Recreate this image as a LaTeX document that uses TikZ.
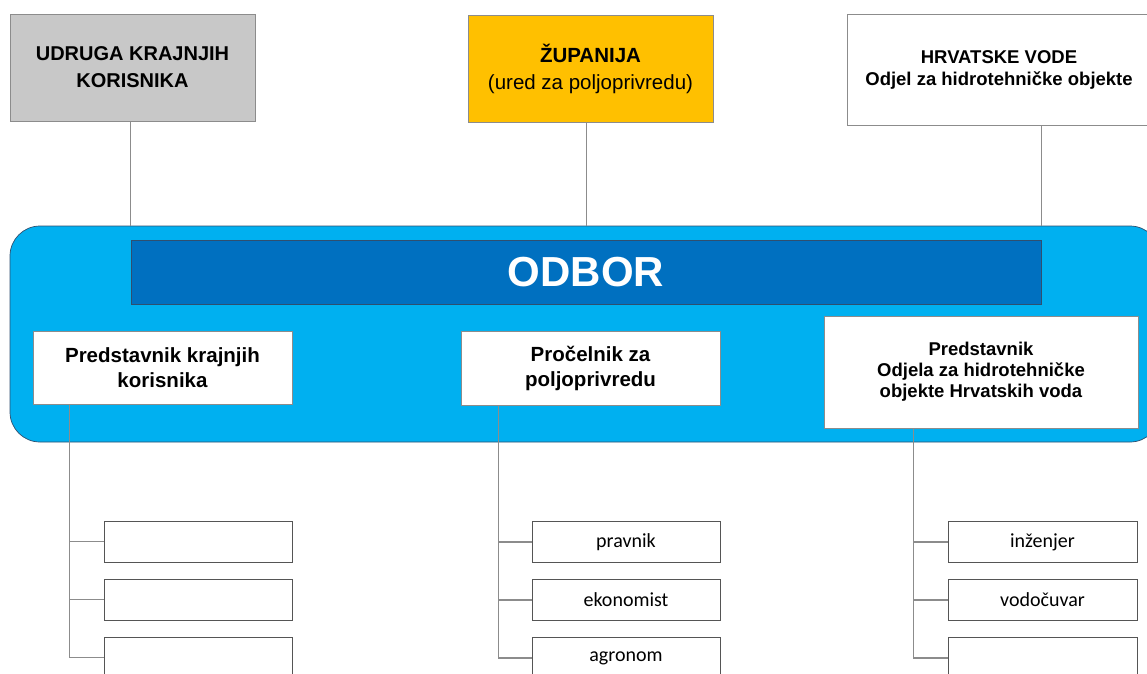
\documentclass[tikz,border=0pt]{standalone}
\usepackage{fontspec}
\setmainfont{Liberation Sans}
\newfontfamily\calib{Carlito}
\definecolor{topgray}{HTML}{C8C8C8}
\definecolor{topgold}{HTML}{FFC000}
\definecolor{panelblue}{HTML}{00B0F0}
\definecolor{barblue}{HTML}{0070C0}
\definecolor{edgegray}{HTML}{8C8C8C}
\definecolor{subedge}{HTML}{555555}
\definecolor{darkedge}{HTML}{2F4F6F}
\begin{document}
\begin{tikzpicture}[x=1pt,y=-1pt,
  topbox/.style={draw=edgegray,line width=0.9pt,inner sep=0pt,align=center},
  innerbox/.style={draw=edgegray,line width=0.9pt,fill=white,inner sep=0pt,align=center},
  subbox/.style={draw=subedge,line width=0.9pt,fill=white,inner sep=0pt,align=center,
    minimum width=188pt,minimum height=41pt,font=\calib\fontsize{20}{22}\selectfont},
  conn/.style={draw=edgegray,line width=1pt},
  tree/.style={draw=edgegray,line width=1.1pt}]
\clip (0,0) rectangle (1147,673);
\fill[white] (0,0) rectangle (1147,673);

% top boxes
\node[topbox,fill=topgray,minimum width=245pt,minimum height=107pt,
  font=\bfseries\fontsize{20}{27}\selectfont] (udruga) at (132.5,67.5)
  {UDRUGA KRAJNJIH\\KORISNIKA};
\node[topbox,fill=topgold,minimum width=245pt,minimum height=107pt,
  font=\fontsize{20.5}{27}\selectfont] (zup) at (590.5,68.5)
  {\textbf{ŽUPANIJA}\\(ured za poljoprivredu)};
\node[topbox,fill=white,minimum width=304pt,minimum height=111pt,
  font=\bfseries\fontsize{18.5}{22}\selectfont] (hv) at (999,69.5)
  {HRVATSKE VODE\\Odjel za hidrotehničke objekte};

% blue panel
\node[draw=darkedge,line width=0.7pt,fill=panelblue,rounded corners=30pt,
  minimum width=1150pt,minimum height=216pt,inner sep=0pt] (panel) at (585,334) {};
\node[draw=darkedge,line width=0.7pt,fill=barblue,minimum width=910pt,minimum height=64pt,
  inner sep=0pt,text=white,font=\bfseries\fontsize{42}{42}\selectfont] (odbor) at (586,272) {ODBOR};

% connectors top
\draw[conn] (odbor.north west |- udruga.south) -- (odbor.north west |- panel.north);
\draw[conn] (odbor.north |- zup.south) -- (odbor.north |- panel.north);
\draw[conn] (odbor.north east |- hv.south) -- (odbor.north east |- panel.north);

% inner boxes
\node[innerbox,minimum width=259pt,minimum height=73pt,
  font=\bfseries\fontsize{20.5}{25}\selectfont] (pk) at (162.5,367.5)
  {Predstavnik krajnjih\\korisnika};
\node[innerbox,minimum width=259pt,minimum height=74pt,
  font=\bfseries\fontsize{20.5}{25}\selectfont] (pp) at (590.5,368)
  {Pročelnik za\\poljoprivredu};
\node[innerbox,minimum width=314pt,minimum height=112pt,
  font=\bfseries\fontsize{18.5}{21}\selectfont] (ph) at (981,372)
  {Predstavnik\\Odjela za hidrotehničke\\objekte Hrvatskih voda};

% sub boxes
\node[subbox] (la) at (198,541.5) {};
\node[subbox] (lb) at (198,599.5) {};
\node[subbox] (lc) at (198,657.5) {};
\node[subbox] (ma) at (626,542) {pravnik};
\node[subbox] (mb) at (626,600) {ekonomist};
\node[subbox] (mc) at (626,658) {agronom};
\node[subbox,minimum width=189pt] (ra) at (1042.5,542) {inženjer};
\node[subbox,minimum width=189pt] (rb) at (1042.5,600) {vodočuvar};
\node[subbox,minimum width=189pt] (rc) at (1042.5,658) {};

% trees
\draw[tree] ([xshift=-34pt]la.west |- pk.south) -- ([xshift=-34pt]lc.west) -- (lc.west);
\draw[tree] ([xshift=-34pt]la.west) -- (la.west);
\draw[tree] ([xshift=-34pt]lb.west) -- (lb.west);
\draw[tree] ([xshift=-33pt]ma.west |- pp.south) -- ([xshift=-33pt]mc.west) -- (mc.west);
\draw[tree] ([xshift=-33pt]ma.west) -- (ma.west);
\draw[tree] ([xshift=-33pt]mb.west) -- (mb.west);
\draw[tree] ([xshift=-34pt]ra.west |- ph.south) -- ([xshift=-34pt]rc.west) -- (rc.west);
\draw[tree] ([xshift=-34pt]ra.west) -- (ra.west);
\draw[tree] ([xshift=-34pt]rb.west) -- (rb.west);
\end{tikzpicture}
\end{document}
